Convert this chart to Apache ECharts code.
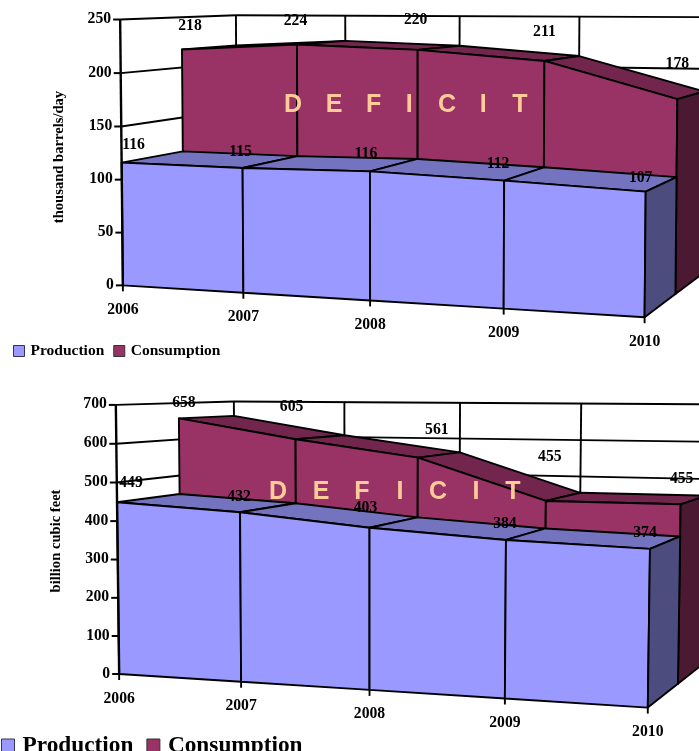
<!DOCTYPE html>
<html>
<head>
<meta charset="utf-8">
<style>html,body{margin:0;padding:0;background:#fff;overflow:hidden}#c{width:699px;height:751px}</style>
<script src="https://cdn.jsdelivr.net/npm/echarts@6/dist/echarts.min.js"></script>
</head>
<body>
<div id="c"></div>
<script>
// ---------- data ----------
const years = ['2006', '2007', '2008', '2009', '2010'];
const oilProduction = [116, 115, 116, 112, 107];
const oilConsumption = [218, 224, 220, 211, 178];
const gasProduction = [449, 432, 403, 384, 374];
const gasConsumption = [658, 605, 561, 455, 455];
const oilTicks = [0, 50, 100, 150, 200, 250];
const gasTicks = [0, 100, 200, 300, 400, 500, 600, 700];
const deficitLetters = ['D', 'E', 'F', 'I', 'C', 'I', 'T'];

// ---------- layout: camera calibration [yearIndex, value, depth, screenX, screenY] ----------
const oilCamera = [
  [0,0,0,123.5,285.7],[1,0,0,243.5,292.7],[2,0,0,369.3,301],[3,0,0,503.7,309],[4,0,0,644,317],
  [0,250,0,120,19.5],[0,116,0,122,162],[1,115,0,242,167.5],[2,116,0,370,172],[3,112,0,504,181],[4,107,0,646.7,190],
  [0,116,1,182.3,151.7],[4,107,1,676,178],[4,0,1,676,293.3],
  [0,218,1,182,49.5],[1,224,1,297.5,44],[2,220,1,418,50],[3,211,1,543.7,62],[4,178,1,677.7,99.3],
  [0,218,2,236,45],[2,220,2,460,45.3],[3,211,2,579.3,55.7],
  [0,250,2,236,15.7],[1,250,2,345,16],[2,250,2,459.7,16],[3,250,2,579,17]
];
const gasCamera = [
  [0,0,0,119.5,674.3],[1,0,0,241.7,681.7],[2,0,0,369.3,690],[3,0,0,503.7,699],[4,0,0,647.7,707.7],
  [0,700,0,116,405.7],[0,449,0,117.5,501.7],[1,432,0,240,511.7],[2,403,0,370,527.7],[3,384,0,505.7,540],[4,374,0,650,549.3],
  [0,449,1,178.3,494],[4,374,1,680,535.7],[4,0,1,678.3,683.3],
  [0,658,1,178,417.7],[1,605,1,295.7,439.3],[2,561,1,418,457.7],[3,455,1,545.7,501.7],[4,455,1,682,503.3],
  [0,658,2,234,415.7],[1,605,2,345,435.7],[2,561,2,460,451.7],[3,455,2,580,493.7],
  [0,700,2,234,401.7],[1,700,2,345,402],[2,700,2,460,403.3],[3,700,2,580,404],[2,600,2,460,438.3]
];
// label nudges in pixels, relative to the projected point
const oilProdNudge = [[12,-18],[-2,-16.5],[-4,-18],[-6,-17],[-5,-14]];
const oilConsNudge = [[8,-23.5],[-1.5,-24],[-2,-30],[0,-30],[0,-36]];
const gasProdNudge = [[14,-20],[-1,-16],[-4,-20],[-1,-16],[-5,-16]];
const gasConsNudge = [[5,-16],[-4,-33],[19,-28],[4,-44],[1,-26]];
const oilDeficitX = [293, 334, 373.7, 409.3, 447, 483.3, 520];
const gasDeficitX = [278, 321, 362, 400, 438, 476, 513];

const FONT = '"Liberation Serif"';
const LABEL_FONT = 'bold 15.7px ' + FONT;
const PROD = { front: '#9999FF', top: '#7373BF', side: '#4C4C7F' };
const CONS = { front: '#993366', top: '#73264D', side: '#4C1933' };

// ---------- projective camera fit (least squares) ----------
function fitCamera(anchors, maxV) {
  const n = 11, M = [], b = [];
  for (let i = 0; i < n; i++) { M.push(new Array(n).fill(0)); b.push(0); }
  const add = (row, rhs) => {
    for (let i = 0; i < n; i++) {
      b[i] += row[i] * rhs;
      for (let j = 0; j < n; j++) M[i][j] += row[i] * row[j];
    }
  };
  anchors.forEach(([i, v, d, x, y]) => {
    const U = i / 4, V = v / maxV, D = d / 2, X = x / 1000, Y = y / 1000;
    add([U, V, D, 1, 0, 0, 0, 0, -X * U, -X * V, -X * D], X);
    add([0, 0, 0, 0, U, V, D, 1, -Y * U, -Y * V, -Y * D], Y);
  });
  for (let c = 0; c < n; c++) {
    let p = c;
    for (let r = c + 1; r < n; r++) if (Math.abs(M[r][c]) > Math.abs(M[p][c])) p = r;
    [M[c], M[p]] = [M[p], M[c]]; [b[c], b[p]] = [b[p], b[c]];
    for (let r = 0; r < n; r++) {
      if (r === c) continue;
      const f = M[r][c] / M[c][c];
      for (let k = c; k < n; k++) M[r][k] -= f * M[c][k];
      b[r] -= f * b[c];
    }
  }
  const s = b.map((t, i) => t / M[i][i]);
  return (U, V, D) => {
    const w = s[8] * U + s[9] * V + s[10] * D + 1;
    return [1000 * (s[0] * U + s[1] * V + s[2] * D + s[3]) / w,
            1000 * (s[4] * U + s[5] * V + s[6] * D + s[7]) / w];
  };
}

// Projects a (yearIndex, value) pair: the library's axis scale gives the grid position,
// the camera then places that position in the tilted 3D box.
function projector(params, api, cam) {
  const r = params.coordSys;
  return (i, v, d) => {
    const c = api.coord([i, v]);
    return cam((c[0] - r.x) / r.width, 1 - (c[1] - r.y) / r.height, d / 2);
  };
}
const line = (a, b, w) => ({
  type: 'line', shape: { x1: a[0], y1: a[1], x2: b[0], y2: b[1] },
  style: { stroke: '#000', lineWidth: w || 1.9 }
});
const poly = (pts, fill) => ({
  type: 'polygon', shape: { points: pts },
  style: { fill: fill, stroke: '#000', lineWidth: 1.9, lineJoin: 'round' }
});
const label = (text, x, y, align) => ({
  type: 'text',
  style: { text: text, x: x, y: y, font: LABEL_FONT, fill: '#000', textAlign: align || 'center', textVerticalAlign: 'middle' }
});

function buildChart(idx, ticks, production, consumption, anchors, prodNudge, consNudge) {
  const max = ticks[ticks.length - 1];
  const cam = fitCamera(anchors, max);
  const last = years.length - 1;
  const xy = vals => vals.map((v, i) => [i, v]);
  const common = { xAxisIndex: idx, yAxisIndex: idx, type: 'custom', clip: false, silent: true,
                   animation: false, encode: { x: 0, y: 1 } };

  const slab = (colors, d0, name, z) => Object.assign({}, common, {
    name: name, z: z, itemStyle: { color: colors.front },
    data: xy(name === 'Production' ? production : consumption),
    renderItem(params, api) {
      const P = projector(params, api, cam);
      const i = api.value(0), v = api.value(1), children = [];
      if (i < last) {
        const w = api.value(1, params.dataIndex + 1);
        children.push(poly([P(i, v, d0), P(i + 1, w, d0), P(i + 1, w, d0 + 1), P(i, v, d0 + 1)], colors.top));
        children.push(poly([P(i, 0, d0), P(i + 1, 0, d0), P(i + 1, w, d0), P(i, v, d0)], colors.front));
      } else {
        children.push(poly([P(i, v, d0), P(i, v, d0 + 1), P(i, 0, d0 + 1), P(i, 0, d0)], colors.side));
      }
      return { type: 'group', children: children };
    }
  });

  const labels = (vals, nudge, d, name) => Object.assign({}, common, {
    name: name, z: 6, data: xy(vals),
    renderItem(params, api) {
      const P = projector(params, api, cam);
      const i = api.value(0), v = api.value(1), p = P(i, v, d);
      return label(String(v), p[0] + nudge[i][0], p[1] + nudge[i][1] + 0.5);
    }
  });

  return [
    Object.assign({}, common, {
      name: 'Value gridlines', z: 1, data: ticks.map(t => [0, t]),
      renderItem(params, api) {
        const P = projector(params, api, cam);
        const v = api.value(1), a = P(0, v, 0), b = P(0, v, 2), c = P(4, v, 2);
        return { type: 'group', children: [
          line(a, b), line(b, c), line(a, [a[0] - 7, a[1]], 2),
          label(String(v), a[0] - 9, a[1] - 0.5, 'right')
        ] };
      }
    }),
    Object.assign({}, common, {
      name: 'Year gridlines', z: 1, data: years.map((y, i) => [i, 0]),
      renderItem(params, api) {
        const P = projector(params, api, cam);
        const i = api.value(0);
        return line(P(i, 0, 2), P(i, max, 2));
      }
    }),
    slab(CONS, 1, 'Consumption', 2),
    slab(PROD, 0, 'Production', 3),
    Object.assign({}, common, {
      name: 'Axis frame', z: 4, data: years.map((y, i) => [i, 0]),
      renderItem(params, api) {
        const P = projector(params, api, cam);
        const i = api.value(0), f = P(i, 0, 0), children = [
          line(f, [f[0], f[1] + 6], 1.9),
          label(years[i], f[0], f[1] + 24.5)
        ];
        if (i === 0) children.push(line(f, P(0, max, 0), 2.4));
        return { type: 'group', children: children };
      }
    }),
    labels(production, prodNudge, 0, 'Production labels'),
    labels(consumption, consNudge, 1, 'Consumption labels')
  ];
}

const series = [].concat(
  buildChart(0, oilTicks, oilProduction, oilConsumption, oilCamera, oilProdNudge, oilConsNudge),
  buildChart(1, gasTicks, gasProduction, gasConsumption, gasCamera, gasProdNudge, gasConsNudge)
);

const letter = (t, x, y) => ({
  type: 'text', x: x, y: y, z: 50,
  style: { text: t, font: 'bold 25px "Liberation Sans"', fill: '#FFCC99', textAlign: 'center', textVerticalAlign: 'middle' }
});
const axisTitle = (t, x, y) => ({
  type: 'text', x: x, y: y, rotation: Math.PI / 2, z: 50,
  style: { text: t, font: 'bold 14.6px ' + FONT, fill: '#000', textAlign: 'center', textVerticalAlign: 'middle' }
});
const legendData = [
  { name: 'Production', icon: 'rect', itemStyle: { color: PROD.front, borderColor: '#333355', borderWidth: 1 } },
  { name: 'Consumption', icon: 'rect', itemStyle: { color: CONS.front, borderColor: '#333', borderWidth: 1 } }
];

const option = {
  backgroundColor: '#fff',
  animation: false,
  tooltip: { show: false },
  grid: [
    { left: 120, top: 20, width: 520, height: 260 },
    { left: 120, top: 405, width: 520, height: 270 }
  ],
  xAxis: [
    { gridIndex: 0, type: 'value', min: 0, max: 4, show: false },
    { gridIndex: 1, type: 'value', min: 0, max: 4, show: false }
  ],
  yAxis: [
    { gridIndex: 0, type: 'value', min: 0, max: 250, interval: 50, show: false },
    { gridIndex: 1, type: 'value', min: 0, max: 700, interval: 100, show: false }
  ],
  legend: [
    { left: 13, top: 343, padding: 0, itemWidth: 11, itemHeight: 11, itemGap: 9, selectedMode: false,
      data: legendData, textStyle: { fontFamily: FONT, fontWeight: 'bold', fontSize: 15.5, color: '#000', padding: [0, 0, 0, 1] } },
    { left: 1, top: 734, padding: 0, itemWidth: 13, itemHeight: 13, itemGap: 13, selectedMode: false,
      data: legendData, textStyle: { fontFamily: FONT, fontWeight: 'bold', fontSize: 23.3, color: '#000', padding: [0, 0, 0, 3] } }
  ],
  graphic: [
    axisTitle('thousand barrels/day', 59.5, 157),
    axisTitle('billion cubic feet', 56, 541)
  ].concat(
    deficitLetters.map((t, i) => letter(t, oilDeficitX[i], 105)),
    deficitLetters.map((t, i) => letter(t, gasDeficitX[i], 492))
  ),
  series: series
};
echarts.init(document.getElementById('c'), null, { renderer: 'canvas' }).setOption(option);
</script>
</body>
</html>
